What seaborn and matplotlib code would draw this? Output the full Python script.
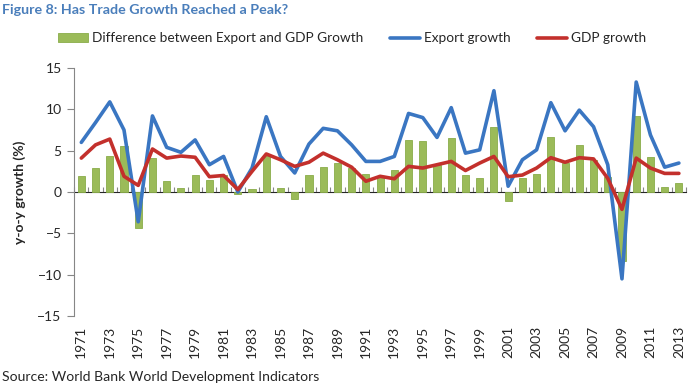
import numpy as np
import pandas as pd
import matplotlib
matplotlib.use("Agg")
import matplotlib.pyplot as plt
import seaborn as sns

# values (y-o-y growth, %)
years = list(range(1971, 2014))
export_growth = [6.0, 8.4, 10.9, 7.5, -3.6, 9.2, 5.4, 4.8, 6.3, 3.3,
                 4.3, 0.0, 2.9, 9.1, 4.3, 2.3, 5.8, 7.7, 7.4, 5.7,
                 3.7, 3.7, 4.3, 9.5, 9.0, 6.6, 10.2, 4.7, 5.1, 12.25,
                 0.7, 3.9, 5.1, 10.8, 7.4, 9.9, 7.9, 3.3, -10.5, 13.3,
                 6.9, 3.0, 3.5]
gdp_growth = [4.1, 5.7, 6.4, 1.9, 0.8, 5.2, 4.1, 4.35, 4.2, 1.85,
              2.0, 0.3, 2.5, 4.6, 3.9, 3.1, 3.6, 4.7, 3.9, 3.0,
              1.3, 1.9, 1.6, 3.1, 2.9, 3.3, 3.7, 2.6, 3.5, 4.3,
              1.85, 2.05, 2.9, 4.15, 3.6, 4.15, 4.0, 1.65, -2.1, 4.1,
              2.9, 2.25, 2.25]
difference = [1.9, 2.9, 4.4, 5.6, -4.3, 4.1, 1.3, 0.5, 2.0, 1.45,
              2.0, -0.3, 0.35, 4.35, 0.45, -0.8, 2.1, 3.0, 3.5, 2.9,
              2.2, 1.85, 2.7, 6.3, 6.2, 3.3, 6.5, 2.1, 1.65, 7.9,
              -1.05, 1.75, 2.2, 6.6, 3.5, 5.7, 3.9, 1.85, -8.4, 9.2,
              4.2, 0.65, 1.1]

df = pd.DataFrame({
    "year": [str(y) for y in years],
    "export": export_growth,
    "gdp": gdp_growth,
    "diff": difference,
})
df["pos"] = np.arange(len(df))

sns.set_style("white")
plt.rcParams["font.family"] = ["Lato", "DejaVu Sans"]

fig = plt.figure(figsize=(7, 3.84), dpi=100)
ax = fig.add_axes([0.106, 0.177, 0.874, 0.646])

sns.barplot(data=df, x="year", y="diff", color="#9bbb59", saturation=1,
            width=0.5, edgecolor="#8aad49", linewidth=0.6,
            label="Difference between Export and GDP Growth", ax=ax)
sns.lineplot(data=df, x="pos", y="export", color="#3a76c2", linewidth=2.6,
             label="Export growth", ax=ax)
sns.lineplot(data=df, x="pos", y="gdp", color="#c3302c", linewidth=2.6,
             label="GDP growth", ax=ax)

ax.set_xlim(-0.5, len(df) - 0.5)
ax.set_ylim(-15, 15)
ax.set_yticks([-15, -10, -5, 0, 5, 10, 15])
ax.set_xticks(df["pos"][::2])
ax.set_xticklabels(df["year"][::2], rotation=90, fontsize=10)
ax.tick_params(axis="x", length=0, pad=7)
ax.tick_params(axis="y", direction="out", length=5, color="#868686",
               labelsize=10, pad=4, left=True)
ax.set_xlabel("")
ax.set_ylabel("y-o-y growth (%)", fontsize=10, fontweight="bold", labelpad=8)
for side in ["top", "right", "bottom"]:
    ax.spines[side].set_visible(False)
ax.spines["left"].set_color("#868686")

# category axis crossing at zero, ticks between categories
zero_axis = ax.secondary_xaxis(0.5)
zero_axis.set_xticks(np.arange(-0.5, len(df), 1))
zero_axis.set_xticklabels([])
zero_axis.tick_params(direction="out", length=3.5, color="#868686")
zero_axis.spines["bottom"].set_color("#868686")

ax.get_legend().remove()
handles, labels = ax.get_legend_handles_labels()
order = [labels.index(n) for n in
         ["Difference between Export and GDP Growth", "Export growth", "GDP growth"]]
fig.legend([handles[i] for i in order], [labels[i] for i in order],
           ncol=3, frameon=False, loc="center",
           bbox_to_anchor=(0.503, 0.9), fontsize=9.8, handlelength=2.2,
           columnspacing=2.0, handletextpad=0.25)

fig.text(0.003, 0.975, "Figure 8: Has Trade Growth Reached a Peak?",
         color="#4a7ebb", fontsize=10.3, fontweight="bold", va="center")
fig.text(0.003, 0.018, "Source: World Bank World Development Indicators",
         fontsize=10.1, va="center")

fig.savefig("out.png", dpi=100)
